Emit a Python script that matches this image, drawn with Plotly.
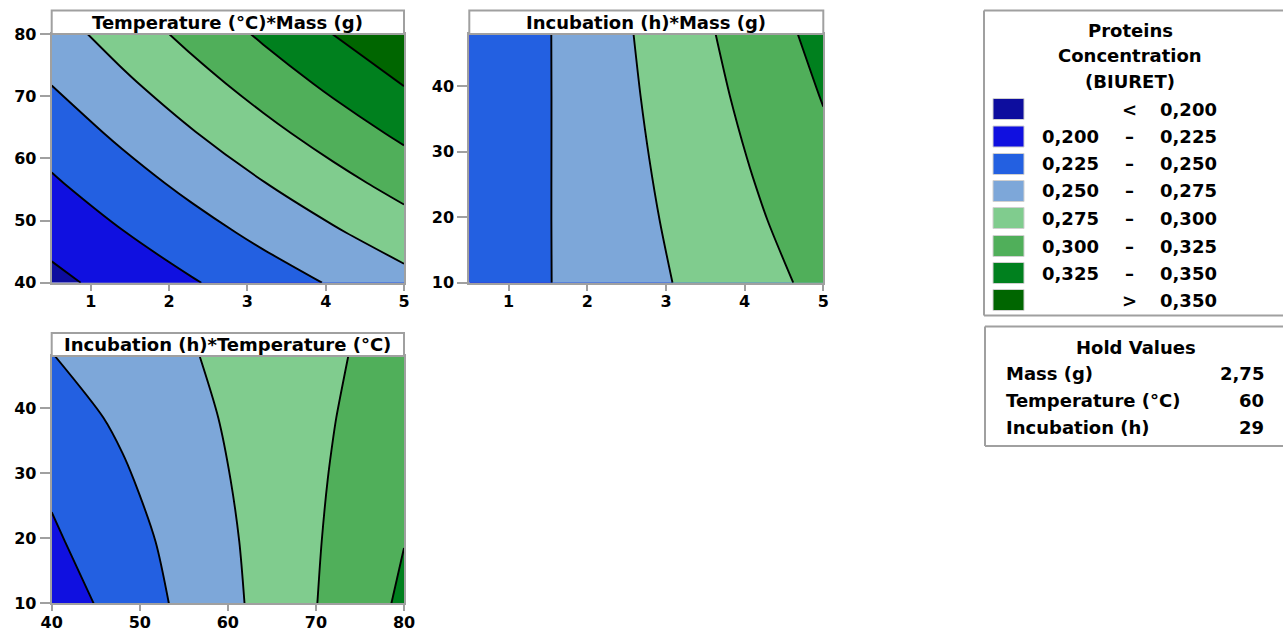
import plotly.graph_objects as go

W, H = 1283, 633
PAGE_OFFSET = 0  # body margin removed by post_script below

# ---------------- data ----------------
level_start = 0.200
level_end = 0.350
level_step = 0.025
band_colors = ["#0D0D9E", "#1010E0", "#2360E1", "#7DA7D9",
               "#80CC8E", "#50AF5A", "#00801E", "#006600"]
legend_low = ["", "0,200", "0,225", "0,250", "0,275", "0,300", "0,325", ""]
legend_sym = ["<", "–", "–", "–", "–", "–", "–", ">"]
legend_high = ["0,200", "0,225", "0,250", "0,275", "0,300", "0,325", "0,350", "0,350"]
legend_title = ["Proteins", "Concentration", "(BIURET)"]

hold_names = ["Mass (g)", "Temperature (°C)", "Incubation (h)"]
hold_values = ["2,75", "60", "29"]

# Panel 1: Temperature (°C) * Mass (g)
mass_p1 = [0.5, 1.4, 2.3, 3.2, 4.1, 5.0]
temp_p1 = [40, 48, 56, 64, 72, 80]
z_p1 = [
    [0.1940, 0.2086, 0.2232, 0.2378, 0.2524, 0.2670],
    [0.2080, 0.2240, 0.2400, 0.2560, 0.2720, 0.2880],
    [0.2220, 0.2394, 0.2568, 0.2742, 0.2916, 0.3090],
    [0.2360, 0.2548, 0.2736, 0.2924, 0.3112, 0.3300],
    [0.2505, 0.2702, 0.2904, 0.3106, 0.3308, 0.3510],
    [0.2640, 0.2856, 0.3072, 0.3288, 0.3504, 0.3720],
]

# Panel 2: Incubation (h) * Mass (g)
mass_p2 = [0.5, 1.4, 2.3, 3.2, 4.1, 5.0]
incub_p2 = [10, 19.5, 29, 38.5, 48]
z_p2 = [
    [0.2330, 0.2476, 0.2623, 0.2769, 0.2916, 0.3062],
    [0.2310, 0.2474, 0.2637, 0.2801, 0.2965, 0.3129],
    [0.2290, 0.2471, 0.2652, 0.2833, 0.3014, 0.3195],
    [0.2270, 0.2468, 0.2667, 0.2865, 0.3063, 0.3261],
    [0.2260, 0.2466, 0.2681, 0.2897, 0.3112, 0.3328],
]

# Panel 3: Incubation (h) * Temperature (°C)
temp_p3 = [40, 48, 56, 64, 72, 80]
incub_p3 = [10, 19.5, 29, 38.5, 48]
z_p3 = [
    [0.2128, 0.2333, 0.2585, 0.2809, 0.3057, 0.3292],
    [0.2215, 0.2402, 0.2609, 0.2822, 0.3036, 0.3245],
    [0.2289, 0.2470, 0.2652, 0.2834, 0.3015, 0.3197],
    [0.2395, 0.2538, 0.2695, 0.2846, 0.2994, 0.3150],
    [0.2495, 0.2607, 0.2738, 0.2859, 0.2973, 0.3102],
]

# ---------------- styling ----------------
FONT = "DejaVu Sans"
GREY = "#A0A0A0"


def fx(p):
    return (p - PAGE_OFFSET) / W


def fy(p):
    return 1 - (p - PAGE_OFFSET) / H


n_bands = len(band_colors)
colorscale = [[i / (n_bands - 1), c] for i, c in enumerate(band_colors)]

panels = [
    dict(x=mass_p1, y=temp_p1, z=z_p1, title="Temperature (°C)*Mass (g)",
         px0=51.7, px1=404.0, ptop=34.0, pbot=282.7, ttop=10.5,
         xr=[0.5, 5], yr=[40, 80], xt=[1, 2, 3, 4, 5], yt=[40, 50, 60, 70, 80]),
    dict(x=mass_p2, y=incub_p2, z=z_p2, title="Incubation (h)*Mass (g)",
         px0=469.3, px1=823.3, ptop=34.0, pbot=282.7, ttop=10.5,
         xr=[0.5, 5], yr=[10, 48], xt=[1, 2, 3, 4, 5], yt=[10, 20, 30, 40]),
    dict(x=temp_p3, y=incub_p3, z=z_p3, title="Incubation (h)*Temperature (°C)",
         px0=51.7, px1=404.0, ptop=356.0, pbot=603.3, ttop=333.0,
         xr=[40, 80], yr=[10, 48], xt=[40, 50, 60, 70, 80], yt=[10, 20, 30, 40]),
]

fig = go.Figure()
shapes = []
annotations = []
layout_axes = {}

for i, p in enumerate(panels, start=1):
    suffix = "" if i == 1 else str(i)
    fig.add_trace(go.Contour(
        x=p["x"], y=p["y"], z=p["z"],
        xaxis="x" + suffix, yaxis="y" + suffix,
        autocontour=False,
        contours=dict(start=level_start, end=level_end, size=level_step,
                      coloring="fill", showlines=True),
        colorscale=colorscale, showscale=False,
        line=dict(color="black", width=1.9, smoothing=0.8),
        hoverinfo="skip",
    ))
    tickfont = dict(family=FONT, size=16, color="black", weight="bold")
    layout_axes["xaxis" + suffix] = dict(
        domain=[fx(p["px0"]), fx(p["px1"])], range=p["xr"],
        anchor="y" + suffix, tickvals=p["xt"], ticks="outside", ticklen=6,
        ticklabelstandoff=-3,
        tickwidth=2, tickcolor=GREY, showline=True, linecolor=GREY,
        linewidth=2, mirror=True, showgrid=False, zeroline=False,
        tickfont=tickfont, fixedrange=True, automargin=False)
    layout_axes["yaxis" + suffix] = dict(
        domain=[fy(p["pbot"]), fy(p["ptop"])], range=p["yr"],
        anchor="x" + suffix, tickvals=p["yt"], ticks="outside", ticklen=10,
        tickwidth=2, tickcolor=GREY, showline=True, linecolor=GREY,
        linewidth=2, mirror=True, showgrid=False, zeroline=False,
        tickfont=tickfont, fixedrange=True, automargin=False)
    # title box
    shapes.append(dict(type="rect", xref="paper", yref="paper",
                       x0=fx(p["px0"]), x1=fx(p["px1"]),
                       y0=fy(p["ptop"]), y1=fy(p["ttop"]),
                       fillcolor="white", line=dict(color=GREY, width=2)))
    annotations.append(dict(xref="paper", yref="paper",
                            x=fx((p["px0"] + p["px1"]) / 2),
                            y=fy((p["ptop"] + p["ttop"]) / 2),
                            text=p["title"], showarrow=False,
                            xanchor="center", yanchor="middle",
                            font=dict(family=FONT, size=18, color="black",
                                      weight="bold")))

# legend box (open on the right: it runs past the image edge)
LEG_FONT = dict(family=FONT, size=18, color="black", weight="bold")


def open_box(x0, y0, y1):
    for (ax0, ay0, ax1, ay1) in [(x0, y0, 1310, y0), (x0, y1, 1310, y1), (x0, y0, x0, y1)]:
        shapes.append(dict(type="line", xref="paper", yref="paper",
                           x0=fx(ax0), y0=fy(ay0), x1=fx(ax1), y1=fy(ay1),
                           line=dict(color=GREY, width=2)))


open_box(984, 10.5, 315.5)
for t, yy in zip(legend_title, [30, 55.5, 82]):
    annotations.append(dict(xref="paper", yref="paper", x=fx(1130), y=fy(yy),
                            text=t, showarrow=False, xanchor="center",
                            yanchor="middle", font=LEG_FONT))
row_y = [109, 136.5, 164, 191, 218, 246, 273, 300]
for k in range(n_bands):
    yy = row_y[k]
    shapes.append(dict(type="rect", xref="paper", yref="paper",
                       x0=fx(993), x1=fx(1024), y0=fy(yy + 10.5), y1=fy(yy - 10.5),
                       fillcolor=band_colors[k], line=dict(color="#D0D0D0", width=1)))
    if legend_low[k]:
        annotations.append(dict(xref="paper", yref="paper", x=fx(1040), y=fy(yy),
                                text=legend_low[k], showarrow=False, xanchor="left",
                                yanchor="middle", font=LEG_FONT))
    annotations.append(dict(xref="paper", yref="paper", x=fx(1129), y=fy(yy),
                            text=legend_sym[k], showarrow=False, xanchor="center",
                            yanchor="middle", font=LEG_FONT))
    annotations.append(dict(xref="paper", yref="paper", x=fx(1219), y=fy(yy),
                            text=legend_high[k], showarrow=False, xanchor="right",
                            yanchor="middle", font=LEG_FONT))

# hold values box
open_box(985, 326.5, 446)
annotations.append(dict(xref="paper", yref="paper", x=fx(1136), y=fy(347),
                        text="Hold Values", showarrow=False, xanchor="center",
                        yanchor="middle", font=LEG_FONT))
for name, val, yy in zip(hold_names, hold_values, [373, 400, 427]):
    annotations.append(dict(xref="paper", yref="paper", x=fx(1004), y=fy(yy),
                            text=name, showarrow=False, xanchor="left",
                            yanchor="middle", font=LEG_FONT))
    annotations.append(dict(xref="paper", yref="paper", x=fx(1266), y=fy(yy),
                            text=val, showarrow=False, xanchor="right",
                            yanchor="middle", font=LEG_FONT))

fig.update_layout(
    width=W, height=H, margin=dict(l=0, r=0, t=0, b=0, pad=0, autoexpand=False),
    paper_bgcolor="white", plot_bgcolor="white",
    showlegend=False, shapes=shapes, annotations=annotations,
    font=dict(family=FONT, color="black"),
    **layout_axes,
)

fig.write_html(
    "out.html",
    config={"responsive": False, "displayModeBar": False},
    post_script="document.body.style.margin='0';document.body.style.overflow='hidden';",
)
